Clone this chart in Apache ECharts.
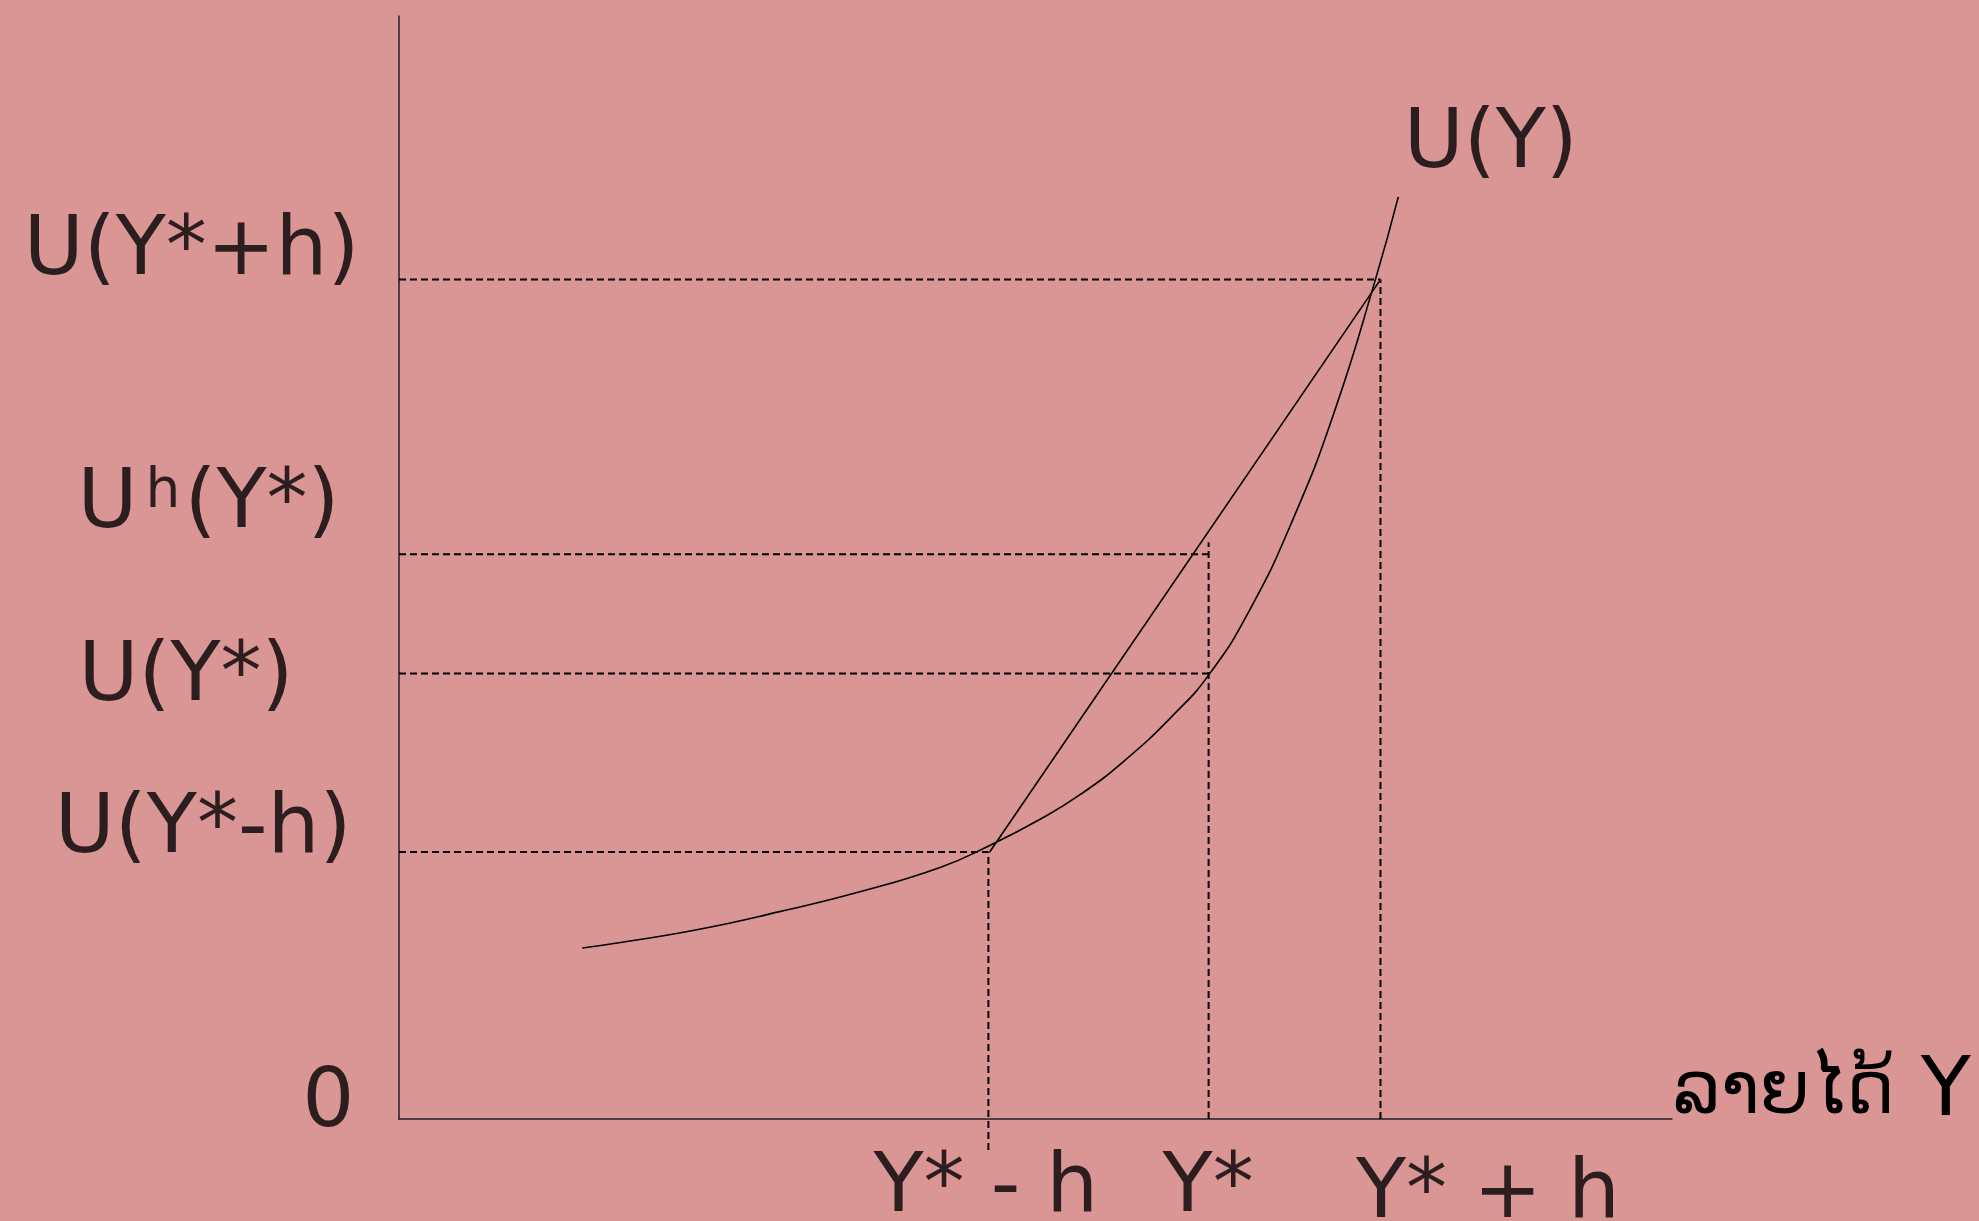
<!DOCTYPE html>
<html>
<head>
<meta charset="utf-8">
<script src="https://cdn.jsdelivr.net/npm/echarts@6.0.0/dist/echarts.min.js"></script>
<style>
  html, body { margin: 0; padding: 0; background: #da9595; overflow: hidden; }
  #chart { width: 1979px; height: 1221px; }
</style>
</head>
<body>
<div id="chart"></div>
<script>
// utility curve U(Y) (income 0-100, utility 0-100)
var curveIncome  = [14.4, 17.4, 23.6, 29.9, 36.2, 42.5, 46.4, 50.4, 53.5, 57.0, 60.8, 63.7, 66.8, 70.2, 73.5, 76.7, 78.5];
var curveUtility = [15.5, 16.0, 17.2, 18.8, 20.6, 22.8, 24.8, 27.2, 29.4, 32.5, 36.6, 40.4, 46.1, 54.3, 64.2, 76.1, 83.6];

// chord between U(Y*-h) and U(Y*+h)
var chordIncome  = [46.4, 77.1];
var chordUtility = [24.2, 76.1];

// utility levels on the vertical axis
var uTickValues = [76.1, 51.2, 40.4, 24.2, 0];
var uTickLabels = ['U(Y*+h)', '{n|U}{s|h}{n|(Y*)}', 'U(Y*)', 'U(Y*-h)', '0'];
var uGuideReach = [77.1, 63.6, 63.6, 46.3];   // where each dashed horizontal stops

// income levels on the horizontal axis
var yTickValues = [46.3, 63.6, 77.1];
var yTickLabels = ['Y* - h', 'Y*', 'Y* + h'];
var yGuideFrom  = [-2.8, 0, 0];
var yGuideTo    = [24.2, 52.3, 76.1];

var curveName = 'U(Y)';
var axisNameLao = 'ລາຍໄດ້';
var axisNameVar = 'Y';

var FONT = 'DejaVu Sans';
var uLabelOffsets = [[-39, -26], [-59, -48], [-105, 6], [-47, -21], [-44, -14]];
var yLabelOffsets = [[-2, 71], [0, 71], [108, 77]];

var chart = echarts.init(document.getElementById('chart'));

var dashStyle = { color: '#000', width: 2, type: [7, 4] };
var series = [];

// dashed guides
for (var i = 0; i < uGuideReach.length; i++) {
  series.push({
    type: 'line', symbol: 'none', silent: true, clip: false,
    lineStyle: dashStyle,
    data: [[0, uTickValues[i]], [uGuideReach[i], uTickValues[i]]]
  });
}
for (var j = 0; j < yTickValues.length; j++) {
  series.push({
    type: 'line', symbol: 'none', silent: true, clip: false,
    lineStyle: dashStyle,
    data: [[yTickValues[j], yGuideFrom[j]], [yTickValues[j], yGuideTo[j]]]
  });
}

// chord
series.push({
  type: 'line', symbol: 'none', silent: true,
  lineStyle: { color: '#000', width: 1.6 },
  data: chordIncome.map(function (x, k) { return [x, chordUtility[k]]; })
});

// utility curve
series.push({
  name: curveName, type: 'line', symbol: 'none', silent: true,
  smooth: 0.5,
  lineStyle: { color: '#000', width: 1.6 },
  data: curveIncome.map(function (x, k) { return [x, curveUtility[k]]; })
});

var ink = { color: '#000', textBorderWidth: 0 };

function textPoint(x, y, text, offset, align) {
  return {
    value: [x, y],
    label: Object.assign({
      show: true, position: offset, formatter: text,
      align: align, verticalAlign: 'middle',
      fontFamily: FONT, fontSize: 82,
      rich: {
        n: Object.assign({ fontFamily: FONT, fontSize: 82 }, ink),
        s: Object.assign({ fontFamily: FONT, fontSize: 55, verticalAlign: 'top', padding: [0, 4, 0, 8] }, ink)
      }
    }, ink)
  };
}

var labelData = [];
uTickLabels.forEach(function (t, k) {
  labelData.push(textPoint(0, uTickValues[k], t, uLabelOffsets[k], 'right'));
});
yTickLabels.forEach(function (t, k) {
  labelData.push(textPoint(yTickValues[k], 0, t, yLabelOffsets[k], 'center'));
});
var last = curveIncome.length - 1;
labelData.push(textPoint(curveIncome[last], curveUtility[last], curveName, [93, -51], 'center'));

series.push({
  type: 'scatter', silent: true, clip: false,
  symbolSize: 1, itemStyle: { color: 'rgba(0,0,0,0)' },
  labelLayout: { hideOverlap: false },
  data: labelData
});

chart.setOption({
  backgroundColor: '#da9595',
  animation: false,
  grid: { left: 399, top: 16, right: 307, bottom: 102, containLabel: false, outerBoundsMode: 'none' },
  xAxis: {
    type: 'value', min: 0, max: 100,
    name: '{l|' + axisNameLao + '} {y|' + axisNameVar + '}', nameLocation: 'end', nameGap: 1,
    nameTextStyle: Object.assign({
      fontFamily: FONT, fontSize: 82, align: 'left', verticalAlign: 'bottom', lineHeight: 50,
      rich: {
        l: Object.assign({ fontFamily: FONT, fontSize: 73, lineHeight: 50 }, ink),
        y: Object.assign({ fontFamily: FONT, fontSize: 82, lineHeight: 50 }, ink)
      }
    }, ink),
    axisLine: { show: true, lineStyle: { color: '#222', width: 1.5 } },
    axisTick: { show: false }, axisLabel: { show: false }, splitLine: { show: false }
  },
  yAxis: {
    type: 'value', min: 0, max: 100,
    axisLine: { show: true, lineStyle: { color: '#222', width: 1.5 } },
    axisTick: { show: false }, axisLabel: { show: false }, splitLine: { show: false }
  },
  series: series
});
window.addEventListener('resize', function () { chart.resize(); });
</script>
</body>
</html>
